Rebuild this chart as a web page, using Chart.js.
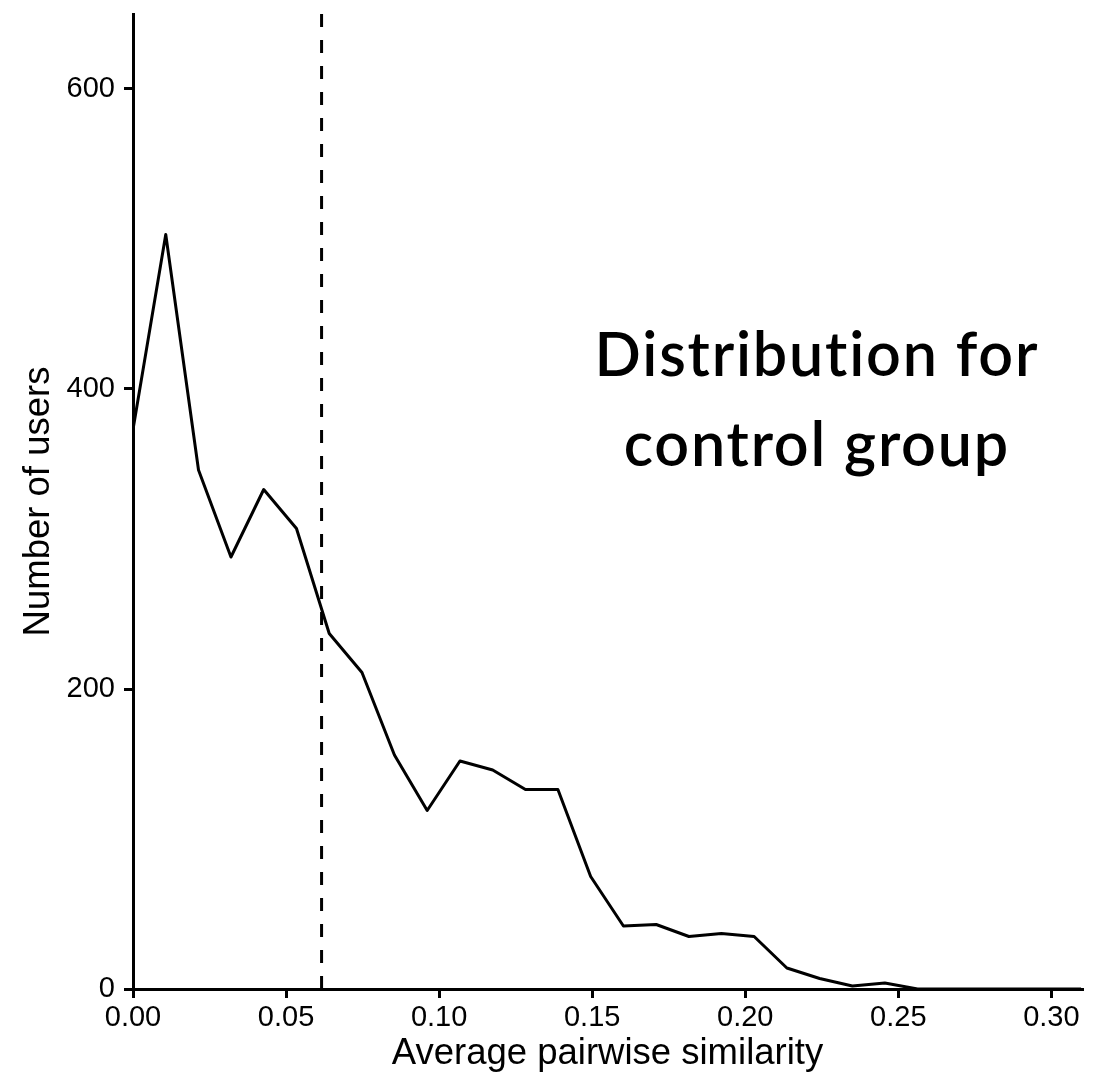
<!DOCTYPE html>
<html>
<head>
<meta charset="utf-8">
<script src="https://cdn.jsdelivr.net/npm/chart.js@4"></script>
<style>
  html, body { margin: 0; padding: 0; background: #fff; overflow: hidden; }
  canvas { display: block; }
</style>
</head>
<body>
<canvas id="chart" width="1110" height="1076"></canvas>
<script>
// Frequency polygon: bin centres of average pairwise similarity and user counts
const similarity = [0, 0.0107, 0.0214, 0.0320, 0.0427, 0.0534, 0.0641, 0.0748, 0.0854, 0.0961,
                    0.1068, 0.1175, 0.1282, 0.1388, 0.1495, 0.1602, 0.1709, 0.1816, 0.1922, 0.2029,
                    0.2136, 0.2243, 0.2350, 0.2456, 0.2563, 0.2670, 0.2777, 0.2884, 0.2990, 0.3097];
const userCounts = [373, 503, 346, 288, 333, 307, 237, 211, 156, 119,
                    152, 146, 133, 133, 75, 42, 43, 35, 37, 35,
                    14, 7, 2, 4, 0, 0, 0, 0, 0, 0];

const xTickValues = [0, 0.05, 0.10, 0.15, 0.20, 0.25, 0.30];
const yTickValues = [0, 200, 400, 600];

// Mean similarity marker
const thresholdValue = 0.0616;

const xAxisTitle = 'Average pairwise similarity';
const yAxisTitle = 'Number of users';
const titleLines = ['Distribution for', 'control group'];
// Annotation anchor in data units (centre x, baseline y of each line)
const titleAnchorX = 0.2234;
const titleAnchorY = [409, 349];

const axisFont = 'Liberation Sans';

const overlay = {
  id: 'overlay',
  afterDatasetsDraw(chart) {
    const { ctx, chartArea, scales: { x, y } } = chart;
    const px = x.getPixelForValue(thresholdValue);
    ctx.save();
    ctx.strokeStyle = '#000';
    ctx.lineWidth = 3;
    ctx.setLineDash([13, 13]);
    ctx.beginPath();
    ctx.moveTo(px, chartArea.bottom);
    ctx.lineTo(px, chartArea.top);
    ctx.stroke();
    ctx.setLineDash([]);

    ctx.fillStyle = '#000';
    ctx.font = '600 61px Lato';
    ctx.letterSpacing = '1.8px';
    ctx.textAlign = 'center';
    ctx.textBaseline = 'alphabetic';
    const tx = x.getPixelForValue(titleAnchorX);
    titleLines.forEach((line, i) => {
      ctx.fillText(line, tx, y.getPixelForValue(titleAnchorY[i]));
    });
    ctx.restore();
  }
};

const axisGrid = {
  drawOnChartArea: false,
  drawTicks: true,
  tickLength: 9,
  tickWidth: 3,
  tickColor: '#000',
  color: '#000',
  lineWidth: 3
};

new Chart(document.getElementById('chart'), {
  type: 'line',
  data: {
    datasets: [{
      data: similarity.map((v, i) => ({ x: v, y: userCounts[i] })),
      borderColor: '#000',
      borderWidth: 3,
      borderJoinStyle: 'round',
      pointRadius: 0,
      tension: 0,
      fill: false
    }]
  },
  options: {
    responsive: false,
    animation: false,
    devicePixelRatio: 1,
    layout: { padding: { top: 14, right: 28, left: 0, bottom: 0 } },
    plugins: { legend: { display: false }, tooltip: { enabled: false } },
    scales: {
      x: {
        type: 'linear',
        min: 0,
        max: 0.31,
        afterBuildTicks: s => { s.ticks = xTickValues.map(v => ({ value: v })); },
        afterFit: s => { s.height = 87; s.paddingLeft = 0; s.paddingRight = 0; },
        grid: axisGrid,
        border: { display: true, color: '#000', width: 3 },
        ticks: {
          color: '#000',
          font: { family: axisFont, size: 29 },
          padding: 3,
          maxRotation: 0,
          autoSkip: false,
          callback: v => Number(v).toFixed(2)
        },
        title: {
          display: true,
          text: xAxisTitle,
          color: '#000',
          font: { family: axisFont, size: 36.5 },
          padding: { top: 0, bottom: 0 }
        }
      },
      y: {
        type: 'linear',
        min: 0,
        max: 650,
        afterBuildTicks: s => { s.ticks = yTickValues.map(v => ({ value: v })); },
        afterFit: s => { s.width = 133; s.paddingTop = 0; s.paddingBottom = 0; },
        grid: axisGrid,
        border: { display: true, color: '#000', width: 3 },
        ticks: {
          color: '#000',
          font: { family: axisFont, size: 29 },
          padding: 9,
          autoSkip: false,
          callback: v => String(v)
        },
        title: {
          display: true,
          text: yAxisTitle,
          color: '#000',
          font: { family: axisFont, size: 36.5 },
          padding: { top: 17, bottom: 0 }
        }
      }
    }
  },
  plugins: [overlay]
});
</script>
</body>
</html>
